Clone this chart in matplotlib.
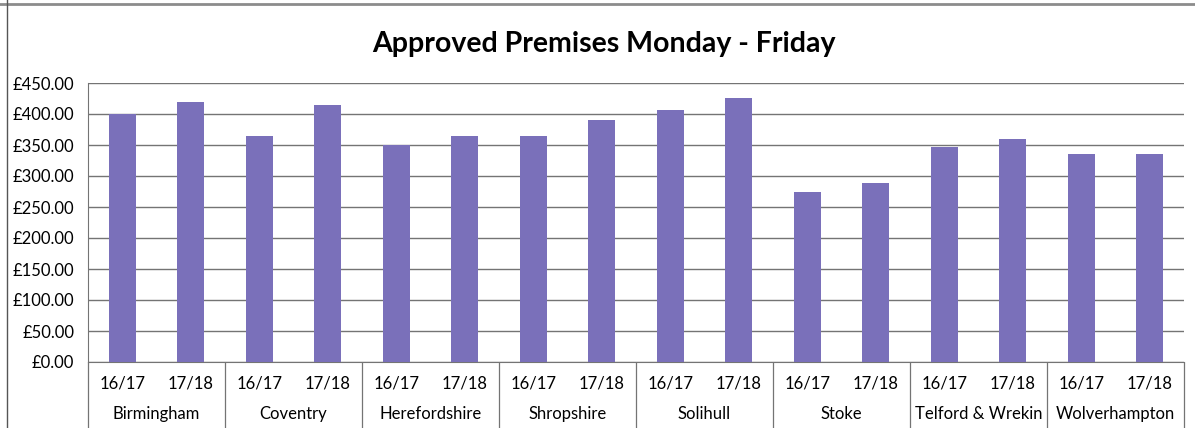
import numpy as np
import matplotlib
matplotlib.use("Agg")
import matplotlib.pyplot as plt
from matplotlib.ticker import FuncFormatter, FixedLocator
from matplotlib.lines import Line2D

plt.rcParams['font.family'] = ['Lato', 'DejaVu Sans']

# chart data
areas = ['Birmingham', 'Coventry', 'Herefordshire', 'Shropshire',
         'Solihull', 'Stoke', 'Telford & Wrekin', 'Wolverhampton']
years = ['16/17', '17/18']
cost_1617 = [400, 365, 350, 364, 407, 274, 346, 335]
cost_1718 = [420, 415, 364, 390, 426, 289, 359, 335]

BAR_COLOR = '#7a70ba'
GRID_COLOR = '#747474'

fig = plt.figure(figsize=(11.95, 4.28), dpi=100)
ax = fig.add_axes([88 / 1195, 1 - 362 / 428, (1184 - 88) / 1195, (362 - 83) / 428])

x = np.arange(len(areas))
ax.bar(x - 0.25, cost_1617, width=0.2, color=BAR_COLOR, zorder=3)
ax.bar(x + 0.25, cost_1718, width=0.2, color=BAR_COLOR, zorder=3)

ax.set_xlim(-0.5, len(areas) - 0.5)
ax.set_ylim(0, 450)
ax.set_yticks(np.arange(0, 451, 50))
ax.yaxis.set_major_formatter(FuncFormatter(lambda v, p: f'£{v:.2f}'))
ax.grid(axis='y', color=GRID_COLOR, linewidth=1.0, zorder=0)

# year labels under each bar
ax.set_xticks(np.concatenate([x - 0.25, x + 0.25]))
ax.set_xticklabels(years[:1] * len(areas) + years[1:] * len(areas))
# separators between groups
ax.xaxis.set_minor_locator(FixedLocator(np.arange(-0.5, len(areas), 1.0)))
ax.tick_params(axis='x', which='major', length=0, pad=10, labelsize=12)
ax.tick_params(axis='x', which='minor', length=52, width=0.9, color=GRID_COLOR)
ax.tick_params(axis='y', length=0, pad=10, labelsize=12)

for i, name in enumerate(areas):
    ax.text(i, -0.187, name, transform=ax.get_xaxis_transform(),
            ha='center', va='center', fontsize=12)

for side in ['top', 'right']:
    ax.spines[side].set_visible(False)
ax.spines['left'].set_color(GRID_COLOR)
ax.spines['bottom'].set_color(GRID_COLOR)

fig.text(0.505, 1 - 44 / 428, 'Approved Premises Monday - Friday',
         ha='center', va='center', fontsize=20.5, fontweight='bold')

# outer frame of the scanned chart
fig.add_artist(Line2D([0, 1], [1 - 4 / 428] * 2, transform=fig.transFigure,
                      color='#8c8c8c', linewidth=2))
fig.add_artist(Line2D([7 / 1195] * 2, [0, 1], transform=fig.transFigure,
                      color='#555555', linewidth=1))

fig.savefig('out.png', dpi=100)
